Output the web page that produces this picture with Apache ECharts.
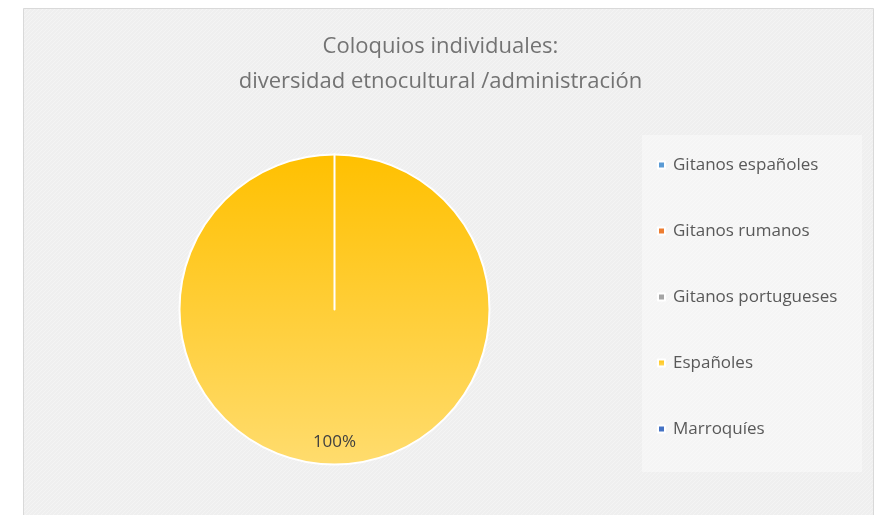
<!DOCTYPE html>
<html>
<head>
<meta charset="utf-8">
<script src="https://cdn.jsdelivr.net/npm/echarts@6/dist/echarts.min.js"></script>
<style>
html,body{margin:0;padding:0;background:#ffffff;}
#chart{width:881px;height:515px;}
</style>
</head>
<body>
<div id="chart"></div>
<script>
// ---- data ----
const titleLines = ['Coloquios individuales:', 'diversidad etnocultural /administración'];
const categories = ['Gitanos españoles', 'Gitanos rumanos', 'Gitanos portugueses', 'Españoles', 'Marroquíes'];
const values = [0, 0, 0, 100, 0];
const colors = ['#5b9bd5', '#ed7d31', '#a5a5a5', '#ffc000', '#4472c4'];

// subtle texture for the chart area
function makePattern(base, light) {
  const c = document.createElement('canvas');
  c.width = 4; c.height = 4;
  const ctx = c.getContext('2d');
  ctx.fillStyle = base; ctx.fillRect(0, 0, 4, 4);
  ctx.fillStyle = light;
  for (let i = 0; i < 4; i++) ctx.fillRect(i, (3 - i), 1, 1);
  return c;
}

const chart = echarts.init(document.getElementById('chart'), null, {renderer: 'canvas'});

const pieData = categories.map((name, i) => {
  const item = {name: name, value: values[i]};
  if (name === 'Españoles') {
    item.itemStyle = {
      color: new echarts.graphic.LinearGradient(0, 0, 0, 1, [
        {offset: 0, color: '#ffc000'},
        {offset: 1, color: '#ffdc6e'}
      ])
    };
  } else {
    item.itemStyle = {color: colors[i]};
    item.label = {show: false};
    item.labelLine = {show: false};
  }
  return item;
});

chart.setOption({
  animation: false,
  color: colors,
  graphic: [
    {type: 'rect', z: -10, silent: true,
     shape: {x: 23.5, y: 8.5, width: 850, height: 520},
     style: {fill: {image: makePattern('#efefef', '#f4f4f4'), repeat: 'repeat'}, stroke: '#d9d9d9', lineWidth: 1}},
    {type: 'rect', z: -9, silent: true,
     shape: {x: 642, y: 135, width: 220, height: 337},
     style: {fill: {image: makePattern('#f5f5f5', '#f8f8f8'), repeat: 'repeat'}}}
  ],
  title: {
    text: titleLines.join('\n'),
    left: 'center',
    top: 29,
    padding: 0,
    textStyle: {
      fontFamily: 'Open Sans',
      fontSize: 22,
      fontWeight: 'normal',
      color: '#737373',
      lineHeight: 35
    }
  },
  legend: {
    orient: 'vertical',
    left: 657,
    top: 156,
    padding: 0,
    itemWidth: 7,
    itemHeight: 7,
    itemGap: 48,
    icon: 'rect',
    data: categories,
    textStyle: {
      fontFamily: 'Open Sans',
      fontSize: 17,
      color: '#595959',
      lineHeight: 18,
      padding: [0, 0, 0, 3]
    }
  },
  series: [{
    type: 'pie',
    center: [334.5, 309.5],
    radius: 155,
    startAngle: 90,
    clockwise: true,
    minAngle: 0,
    avoidLabelOverlap: false,
    emphasis: {disabled: true},
    itemStyle: {borderColor: '#ffffff', borderWidth: 2},
    label: {
      show: true,
      position: 'inside',
      formatter: '{d}%',
      offset: [0, 52],
      fontFamily: 'Open Sans',
      fontSize: 17,
      color: '#404040'
    },
    labelLine: {show: false},
    data: pieData
  }]
});
</script>
</body>
</html>
